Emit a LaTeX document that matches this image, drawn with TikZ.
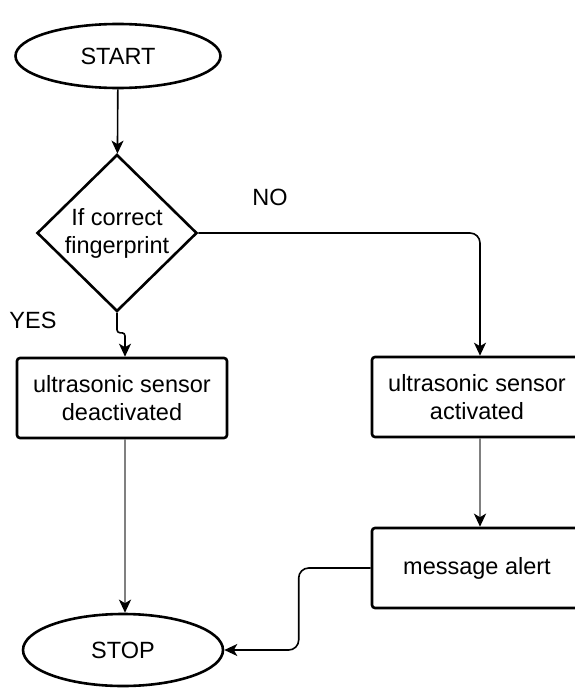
\documentclass[tikz,border=0pt]{standalone}
\usepackage{fontspec}
\setmainfont{Liberation Sans}
\usetikzlibrary{shapes.geometric,arrows.meta}

\begin{document}
\begin{tikzpicture}[x=1pt,y=-1pt,
    every node/.style={font=\fontsize{23.5}{28}\selectfont},
    enode/.style={draw,ellipse,line width=2.6pt,minimum width=205pt,minimum height=64pt,inner sep=0pt},
    dnode/.style={draw,diamond,line width=2.6pt,minimum width=160pt,minimum height=157pt,inner sep=0pt,align=center},
    bnode/.style={draw,rectangle,rounded corners=3pt,line width=2.6pt,minimum width=210pt,minimum height=80pt,align=center},
    link/.style={->,line width=1.6pt},
    glink/.style={-{Stealth[length=13pt,width=12pt,inset=3.5pt,color=black]},line width=2.6pt,black!50},
    >={Stealth[length=13pt,width=12pt,inset=3.5pt]}]
    \useasboundingbox (0,0) rectangle (574,690);
    \node[enode] (start) at (118,56) {START};
    \node[dnode] (dec) at (117,233) {If correct\\fingerprint};
    \node[bnode] (deact) at (122,398) {ultrasonic sensor\\deactivated};
    \node[bnode] (act) at (477,397) {ultrasonic sensor\\activated};
    \node[bnode] (alert) at (477,568) {message alert};
    \node[enode, minimum width=200pt, minimum height=72pt] (stop) at (123,650) {STOP};
    \node (no) at (270,197) {NO};
    \node (yes) at (33,320) {YES};

    \draw[link] (start) -- (dec);
    \draw[link, rounded corners=10pt] (dec.east) -| ([xshift=3pt]act.north);
    \draw[link, rounded corners=3pt] (dec.south) -- ++(0,20) -| ([xshift=3pt]deact.north);
    \draw[glink] ([xshift=3pt]deact.south) -- ([xshift=3pt]deact.south |- stop.north);
    \draw[glink] ([xshift=3pt]act.south) -- ([xshift=3pt]alert.north);
    \draw[link, rounded corners=10pt] (alert.west) -- ++(-72,0) |- (stop.east);
\end{tikzpicture}
\end{document}
